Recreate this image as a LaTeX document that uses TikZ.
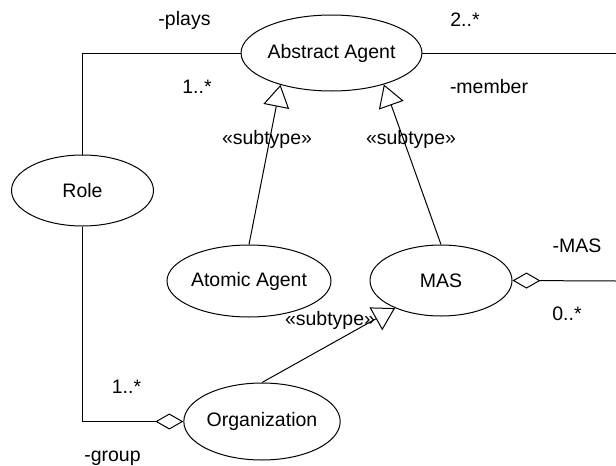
\documentclass[tikz,border=0pt]{standalone}
\usepackage{fontspec}
\setmainfont{Liberation Sans}
\usetikzlibrary{shapes.geometric,arrows.meta}
\begin{document}
\begin{tikzpicture}[x=1pt,y=-1pt,
  txt/.style={font=\fontsize{19.5}{22}\selectfont},
  cls/.style={txt, draw, ellipse, line width=1pt, inner sep=0pt},
  lbl/.style={txt, inner sep=0pt},
  conn/.style={line width=1pt},
  gen/.style={conn, -{Triangle[open, length=22pt, width=26pt]}},
  agg/.style={conn, -{Diamond[open, length=28pt, width=16pt]}}]
\useasboundingbox (0,0) rectangle (616,466);
% classes
\node[cls, minimum width=154pt, minimum height=76pt] (abs) at (331.5,53) {Abstract Agent};
\node[cls, minimum width=142pt, minimum height=71pt] (role) at (82.5,190.5) {Role};
\node[cls, minimum width=142pt, minimum height=72pt] (atomic) at (249,281) {Atomic Agent};
\node[cls, minimum width=142pt, minimum height=71pt] (mas) at (441,280.5) {MAS};
\node[cls, minimum width=152pt, minimum height=77pt] (org) at (262,421.5) {Organization};
% free ends
\coordinate (e1) at (616,53);
\coordinate (e2) at (616,281);
% connectors
\draw[conn] (role.north) |- (abs.west);
\draw[agg] (role.south) |- (org.west);
\draw[conn] (abs.east) -- (e1);
\draw[agg] (e2) -- (mas.east);
\draw[gen] (atomic.north) -- (abs.212.5);
\draw[gen] (mas.north) -- (abs.329);
\draw[gen] (org.north) -- (mas.211.6);
% labels
\node[lbl] (lplays) at (184.5,20) {-plays};
\node[lbl] (lone1) at (197,87) {1..*};
\node[lbl] (ltwo) at (465,20) {2..*};
\node[lbl] (lmember) at (489,87) {-member};
\node[lbl] (lsub1) at (267,139) {«subtype»};
\node[lbl] (lsub2) at (411,139) {«subtype»};
\node[lbl] (lsub3) at (330,320) {«subtype»};
\node[lbl] (lmas) at (577,246) {-MAS};
\node[lbl] (lzero) at (567,314) {0..*};
\node[lbl] (lone2) at (126.5,387) {1..*};
\node[lbl] (lgroup) at (112.5,458) {-group};
\end{tikzpicture}
\end{document}
